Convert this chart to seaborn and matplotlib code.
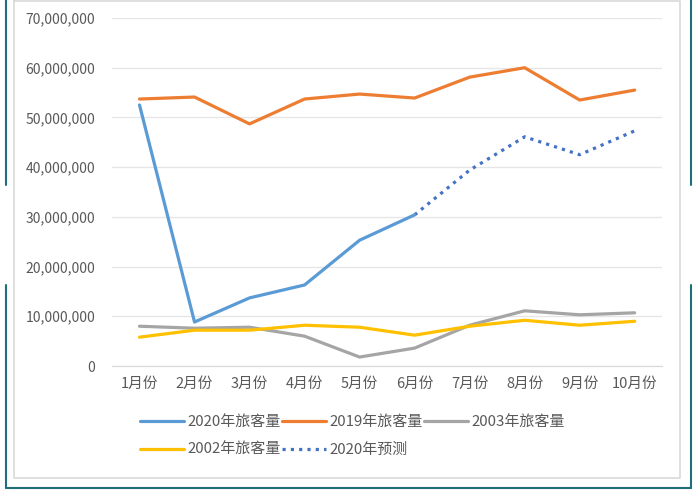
import matplotlib
matplotlib.use("Agg")
import matplotlib.pyplot as plt
from matplotlib.lines import Line2D
from matplotlib.ticker import FuncFormatter, MultipleLocator
import seaborn as sns

months = ["1月份", "2月份", "3月份", "4月份", "5月份", "6月份", "7月份", "8月份", "9月份", "10月份"]
pax_2020 = [52.5e6, 8.85e6, 13.7e6, 16.3e6, 25.3e6, 30.4e6]
pax_2019 = [53.7e6, 54.1e6, 48.7e6, 53.7e6, 54.7e6, 53.9e6, 58.1e6, 60.0e6, 53.5e6, 55.5e6]
pax_2003 = [8.0e6, 7.6e6, 7.8e6, 6.0e6, 1.8e6, 3.6e6, 8.2e6, 11.1e6, 10.3e6, 10.7e6]
pax_2002 = [5.8e6, 7.2e6, 7.2e6, 8.2e6, 7.8e6, 6.2e6, 8.0e6, 9.2e6, 8.2e6, 9.0e6]
forecast_2020 = [30.4e6, 39.4e6, 46.1e6, 42.5e6, 47.3e6]

sns.set_style("white")
plt.rcParams["font.family"] = ["Noto Sans CJK SC", "DejaVu Sans"]

fig = plt.figure(figsize=(7, 5), dpi=100)
ax = fig.add_axes([0.16, 0.268, 0.786, 0.696])

txt = "#595959"
lw = 2.3
# plot the full-length series first so the category order is set
sns.lineplot(x=months, y=pax_2019, ax=ax, color="#ED7D31", linewidth=lw, sort=False, label="2019年旅客量")
sns.lineplot(x=months, y=pax_2003, ax=ax, color="#A5A5A5", linewidth=lw, sort=False, label="2003年旅客量")
sns.lineplot(x=months, y=pax_2002, ax=ax, color="#FFC000", linewidth=lw, sort=False, label="2002年旅客量")
sns.lineplot(x=months[5:], y=forecast_2020, ax=ax, color="#4472C4", linewidth=lw, sort=False,
             linestyle=(0, (1, 1.6)), label="2020年预测")
sns.lineplot(x=months[:6], y=pax_2020, ax=ax, color="#5B9BD5", linewidth=lw, sort=False, label="2020年旅客量")

ax.set_xlim(-0.5, 9.5)
ax.set_ylim(0, 70e6)
ax.yaxis.set_major_locator(MultipleLocator(10e6))
ax.yaxis.set_major_formatter(FuncFormatter(lambda v, p: f"{v:,.0f}"))
ax.grid(axis="y", color="#E6E6E6", linewidth=1)
ax.set_axisbelow(True)
for s in ["top", "right", "left"]:
    ax.spines[s].set_visible(False)
ax.spines["bottom"].set_color("#D9D9D9")
ax.tick_params(axis="y", length=0, pad=12, labelsize=10, labelcolor=txt)
ax.tick_params(axis="x", length=0, pad=8, labelsize=10.5, labelcolor=txt)
ax.set_xlabel("")
ax.set_ylabel("")

h, l = ax.get_legend_handles_labels()
ax.get_legend().remove()
d = dict(zip(l, h))
order = ["2020年旅客量", "2002年旅客量", "2019年旅客量", "2020年预测", "2003年旅客量"]
fig.legend([d[k] for k in order], order, ncol=3, loc="upper left", bbox_to_anchor=(0.181, 0.196),
           frameon=False, fontsize=10.8, labelcolor=txt, handlelength=2.9, handletextpad=0.25,
           columnspacing=0.1, labelspacing=0.9)

# screenshot frame: inner light border and outer teal border with gaps on the sides
gray = "#D9D9D9"
teal = "#1F6F78"
fig.add_artist(Line2D([0.02, 0.02, 0.972, 0.972, 0.02], [0.998, 0.044, 0.044, 0.998, 0.998],
                      color=gray, linewidth=1.2))
fig.add_artist(Line2D([0.008, 0.987], [0.024, 0.024], color=teal, linewidth=1.5))
for x in [0.008, 0.987]:
    fig.add_artist(Line2D([x, x], [0.024, 0.43], color=teal, linewidth=1.5))
    fig.add_artist(Line2D([x, x], [0.63, 1.0], color=teal, linewidth=1.5))

fig.savefig("out.png", dpi=100)
